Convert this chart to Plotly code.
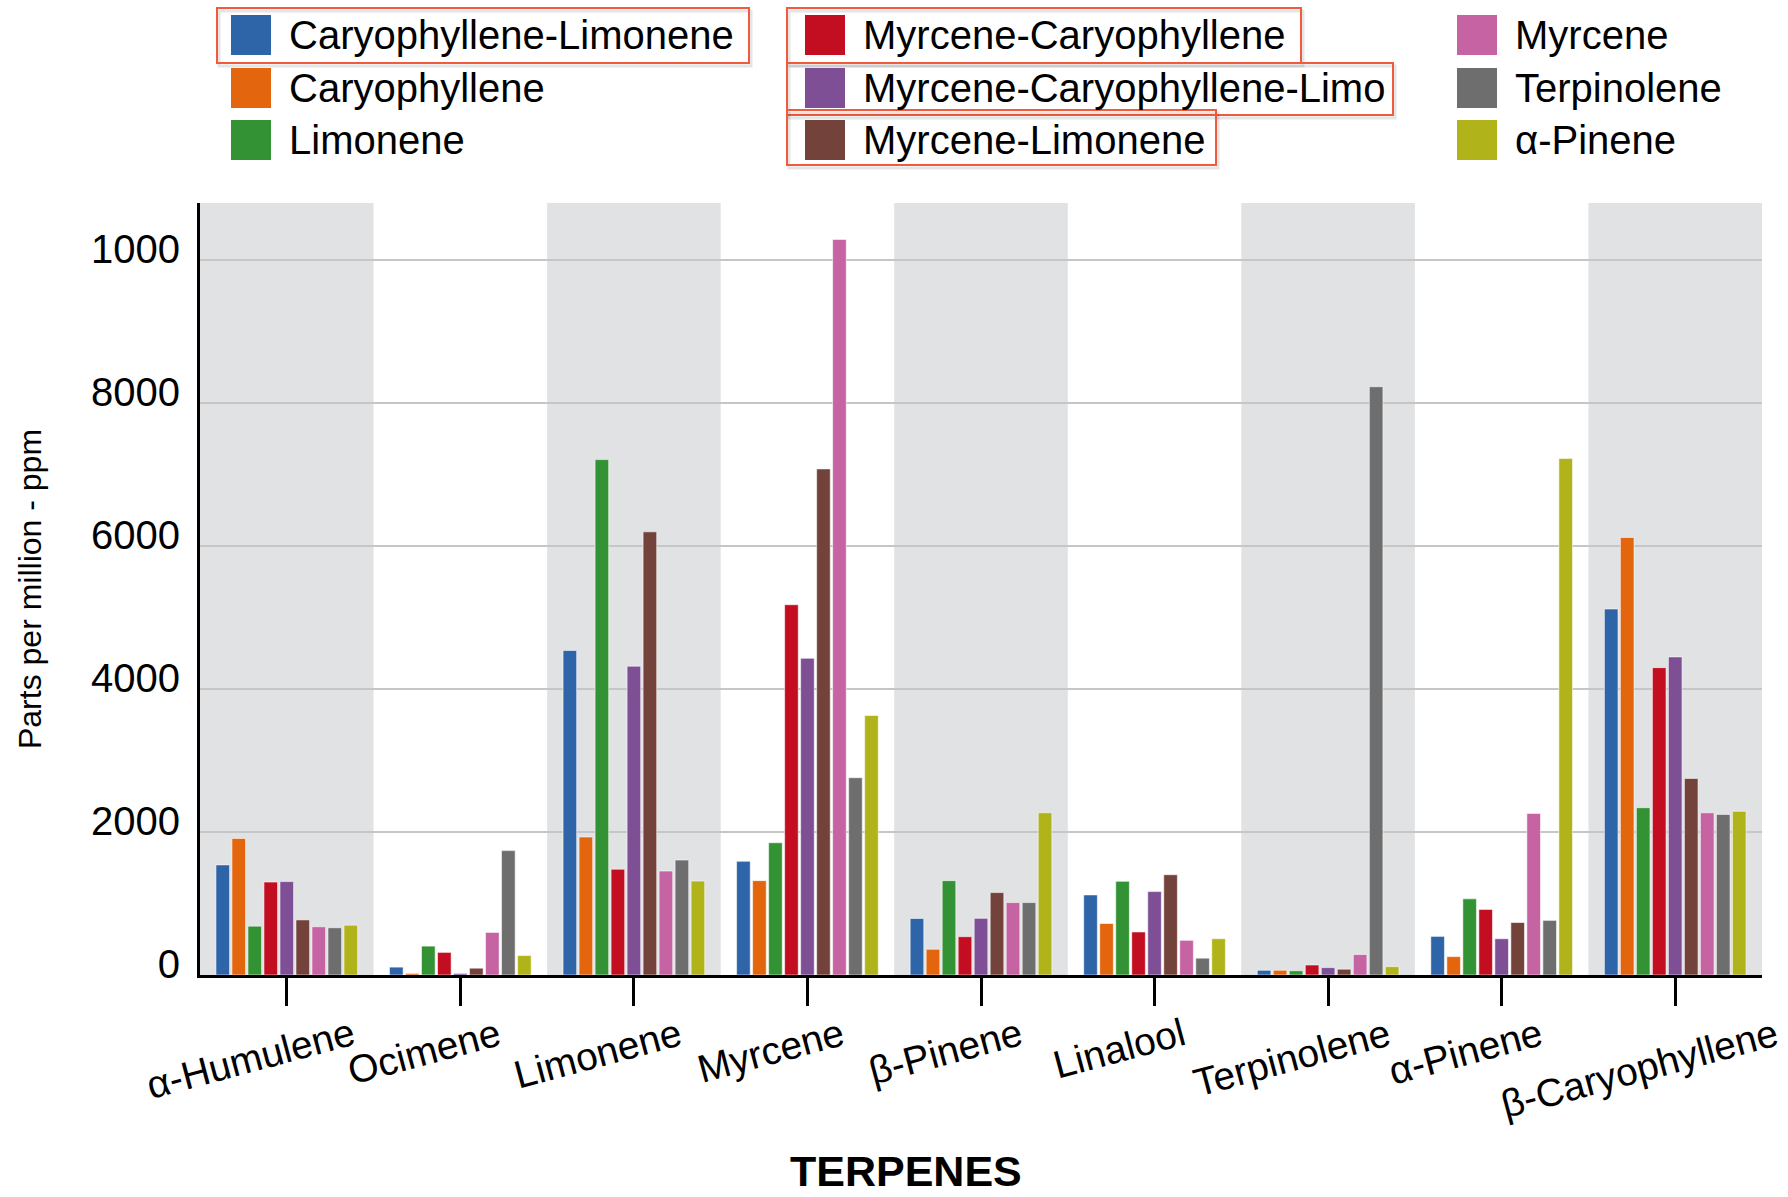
import plotly.graph_objects as go

# ---------------- data ----------------
categories = ["α-Humulene", "Ocimene", "Limonene", "Myrcene", "β-Pinene",
              "Linalool", "Terpinolene", "α-Pinene", "β-Caryophyllene"]

series_names = ["Caryophyllene-Limonene", "Caryophyllene", "Limonene",
                "Myrcene-Caryophyllene", "Myrcene-Caryophyllene-Limo",
                "Myrcene-Limonene", "Myrcene", "Terpinolene", "α-Pinene"]

caryophyllene_limonene     = [1540, 110, 4540, 1590, 790, 1120, 66, 540, 5120]
caryophyllene              = [1910, 22, 1930, 1320, 360, 720, 66, 257, 6120]
limonene                   = [683, 404, 7210, 1850, 1320, 1310, 59, 1065, 2340]
myrcene_caryophyllene      = [1300, 316, 1480, 5180, 536, 602, 140, 918, 4300]
myrcene_caryophyllene_limo = [1307, 22, 4320, 4430, 793, 1167, 103, 507, 4450]
myrcene_limonene           = [771, 95, 6200, 7080, 1153, 1402, 81, 734, 2750]
myrcene                    = [675, 595, 1454, 10290, 1013, 485, 286, 2261, 2269]
terpinolene                = [661, 1740, 1608, 2760, 1013, 235, 8230, 764, 2247]
alpha_pinene               = [697, 272, 1314, 3630, 2270, 507, 117, 7225, 2290]

y_tickvals = [0, 2000, 4000, 6000, 8000, 10000]
y_ticktext = ["0", "2000", "4000", "6000", "8000", "1000"]

x_title = "TERPENES"
y_title = "Parts per million - ppm"

series_values = [caryophyllene_limonene, caryophyllene, limonene,
                 myrcene_caryophyllene, myrcene_caryophyllene_limo,
                 myrcene_limonene, myrcene, terpinolene, alpha_pinene]

colors = ["#2e64a8", "#e3650e", "#339233", "#c20e20", "#7f4f96",
          "#73433b", "#c563a3", "#6e6e6e", "#b0b41a"]

# ---------------- layout geometry (pixels) ----------------
W, H = 1788, 1197
L, R, T, B = 200, 1762, 203, 975
FONT = "Liberation Sans, Arial, Helvetica, sans-serif"


def px(xp):
    return (xp - L) / (R - L)


def py(yp):
    return (B - yp) / (B - T)


fig = go.Figure()
for name, vals, col in zip(series_names, series_values, colors):
    fig.add_trace(go.Bar(
        name=name, x=categories, y=vals,
        marker=dict(color=col, line=dict(color="rgba(255,255,255,0.55)", width=1)),
        showlegend=False,
    ))

shapes = []
# alternating shaded bands
for i in range(0, len(categories), 2):
    shapes.append(dict(type="rect", xref="x", yref="paper",
                       x0=i - 0.5, x1=i + 0.5, y0=0, y1=1,
                       fillcolor="#e1e2e4", line=dict(width=0), layer="below"))

annotations = []
# x category labels (rotated)
for c in categories:
    annotations.append(dict(x=c, xref="x", y=py(1008), yref="paper",
                            text=c, showarrow=False, textangle=-15,
                            xanchor="center", yanchor="top", xshift=-36,
                            font=dict(family=FONT, size=39, color="black")))

# x axis title
annotations.append(dict(x=px(906), y=py(1196), xref="paper", yref="paper",
                        text="<b>" + x_title + "</b>", showarrow=False,
                        xanchor="center", yanchor="bottom", borderpad=0,
                        font=dict(family=FONT, size=43, color="black")))

# manual legend: 3 columns x 3 rows
leg_col_x = [231, 805, 1457]
leg_row_y = [35, 88, 140]
sw = 40
for i, (name, col) in enumerate(zip(series_names, colors)):
    cx = leg_col_x[i // 3]
    cy = leg_row_y[i % 3]
    shapes.append(dict(type="rect", xref="paper", yref="paper",
                       x0=px(cx), x1=px(cx + sw), y0=py(cy - sw / 2), y1=py(cy + sw / 2),
                       fillcolor=col, line=dict(width=0)))
    annotations.append(dict(x=px(cx + sw + 16), y=py(cy), xref="paper", yref="paper",
                            text=name, showarrow=False, xanchor="left", yanchor="middle",
                            font=dict(family=FONT, size=40, color="black")))

# red highlight boxes around some legend entries
hl_boxes = [(217, 8, 749, 63), (787, 8, 1301, 63), (787, 63, 1393, 115), (787, 110, 1216, 165)]
for x0, y0, x1, y1 in hl_boxes:
    shapes.append(dict(type="rect", xref="paper", yref="paper",
                       x0=px(x0 + 2), x1=px(x1 + 2), y0=py(y0 + 3), y1=py(y1 + 3),
                       line=dict(color="rgba(0,0,0,0.10)", width=3)))
    shapes.append(dict(type="rect", xref="paper", yref="paper",
                       x0=px(x0), x1=px(x1), y0=py(y0), y1=py(y1),
                       line=dict(color="#ef5b3c", width=2)))

fig.update_layout(
    width=W, height=H, autosize=False,
    margin=dict(l=L, r=W - R, t=T, b=H - B, pad=0),
    paper_bgcolor="white", plot_bgcolor="white",
    barmode="group", bargap=0.17, bargroupgap=0.15,
    font=dict(family=FONT, color="black"),
    shapes=shapes, annotations=annotations,
    showlegend=False,
)

fig.update_xaxes(
    range=[-0.5, len(categories) - 0.5],
    showline=True, linecolor="black", linewidth=3,
    ticks="outside", ticklen=28, tickwidth=3, tickcolor="black",
    showticklabels=False, showgrid=False, zeroline=False,
)

fig.update_yaxes(
    range=[0, 10800],
    tickvals=y_tickvals, ticktext=y_ticktext,
    showline=True, linecolor="black", linewidth=3,
    ticks="", ticklabelstandoff=9, ticklabelshift=-11,
    tickfont=dict(family=FONT, size=40, color="black"),
    showgrid=True, gridcolor="#c6c6c6", gridwidth=2, zeroline=False,
    title=dict(text=y_title, font=dict(family=FONT, size=32, color="black"), standoff=40),
)

fig.write_html("out.html", config={"displayModeBar": False},
               post_script="document.body.style.margin='0';")
